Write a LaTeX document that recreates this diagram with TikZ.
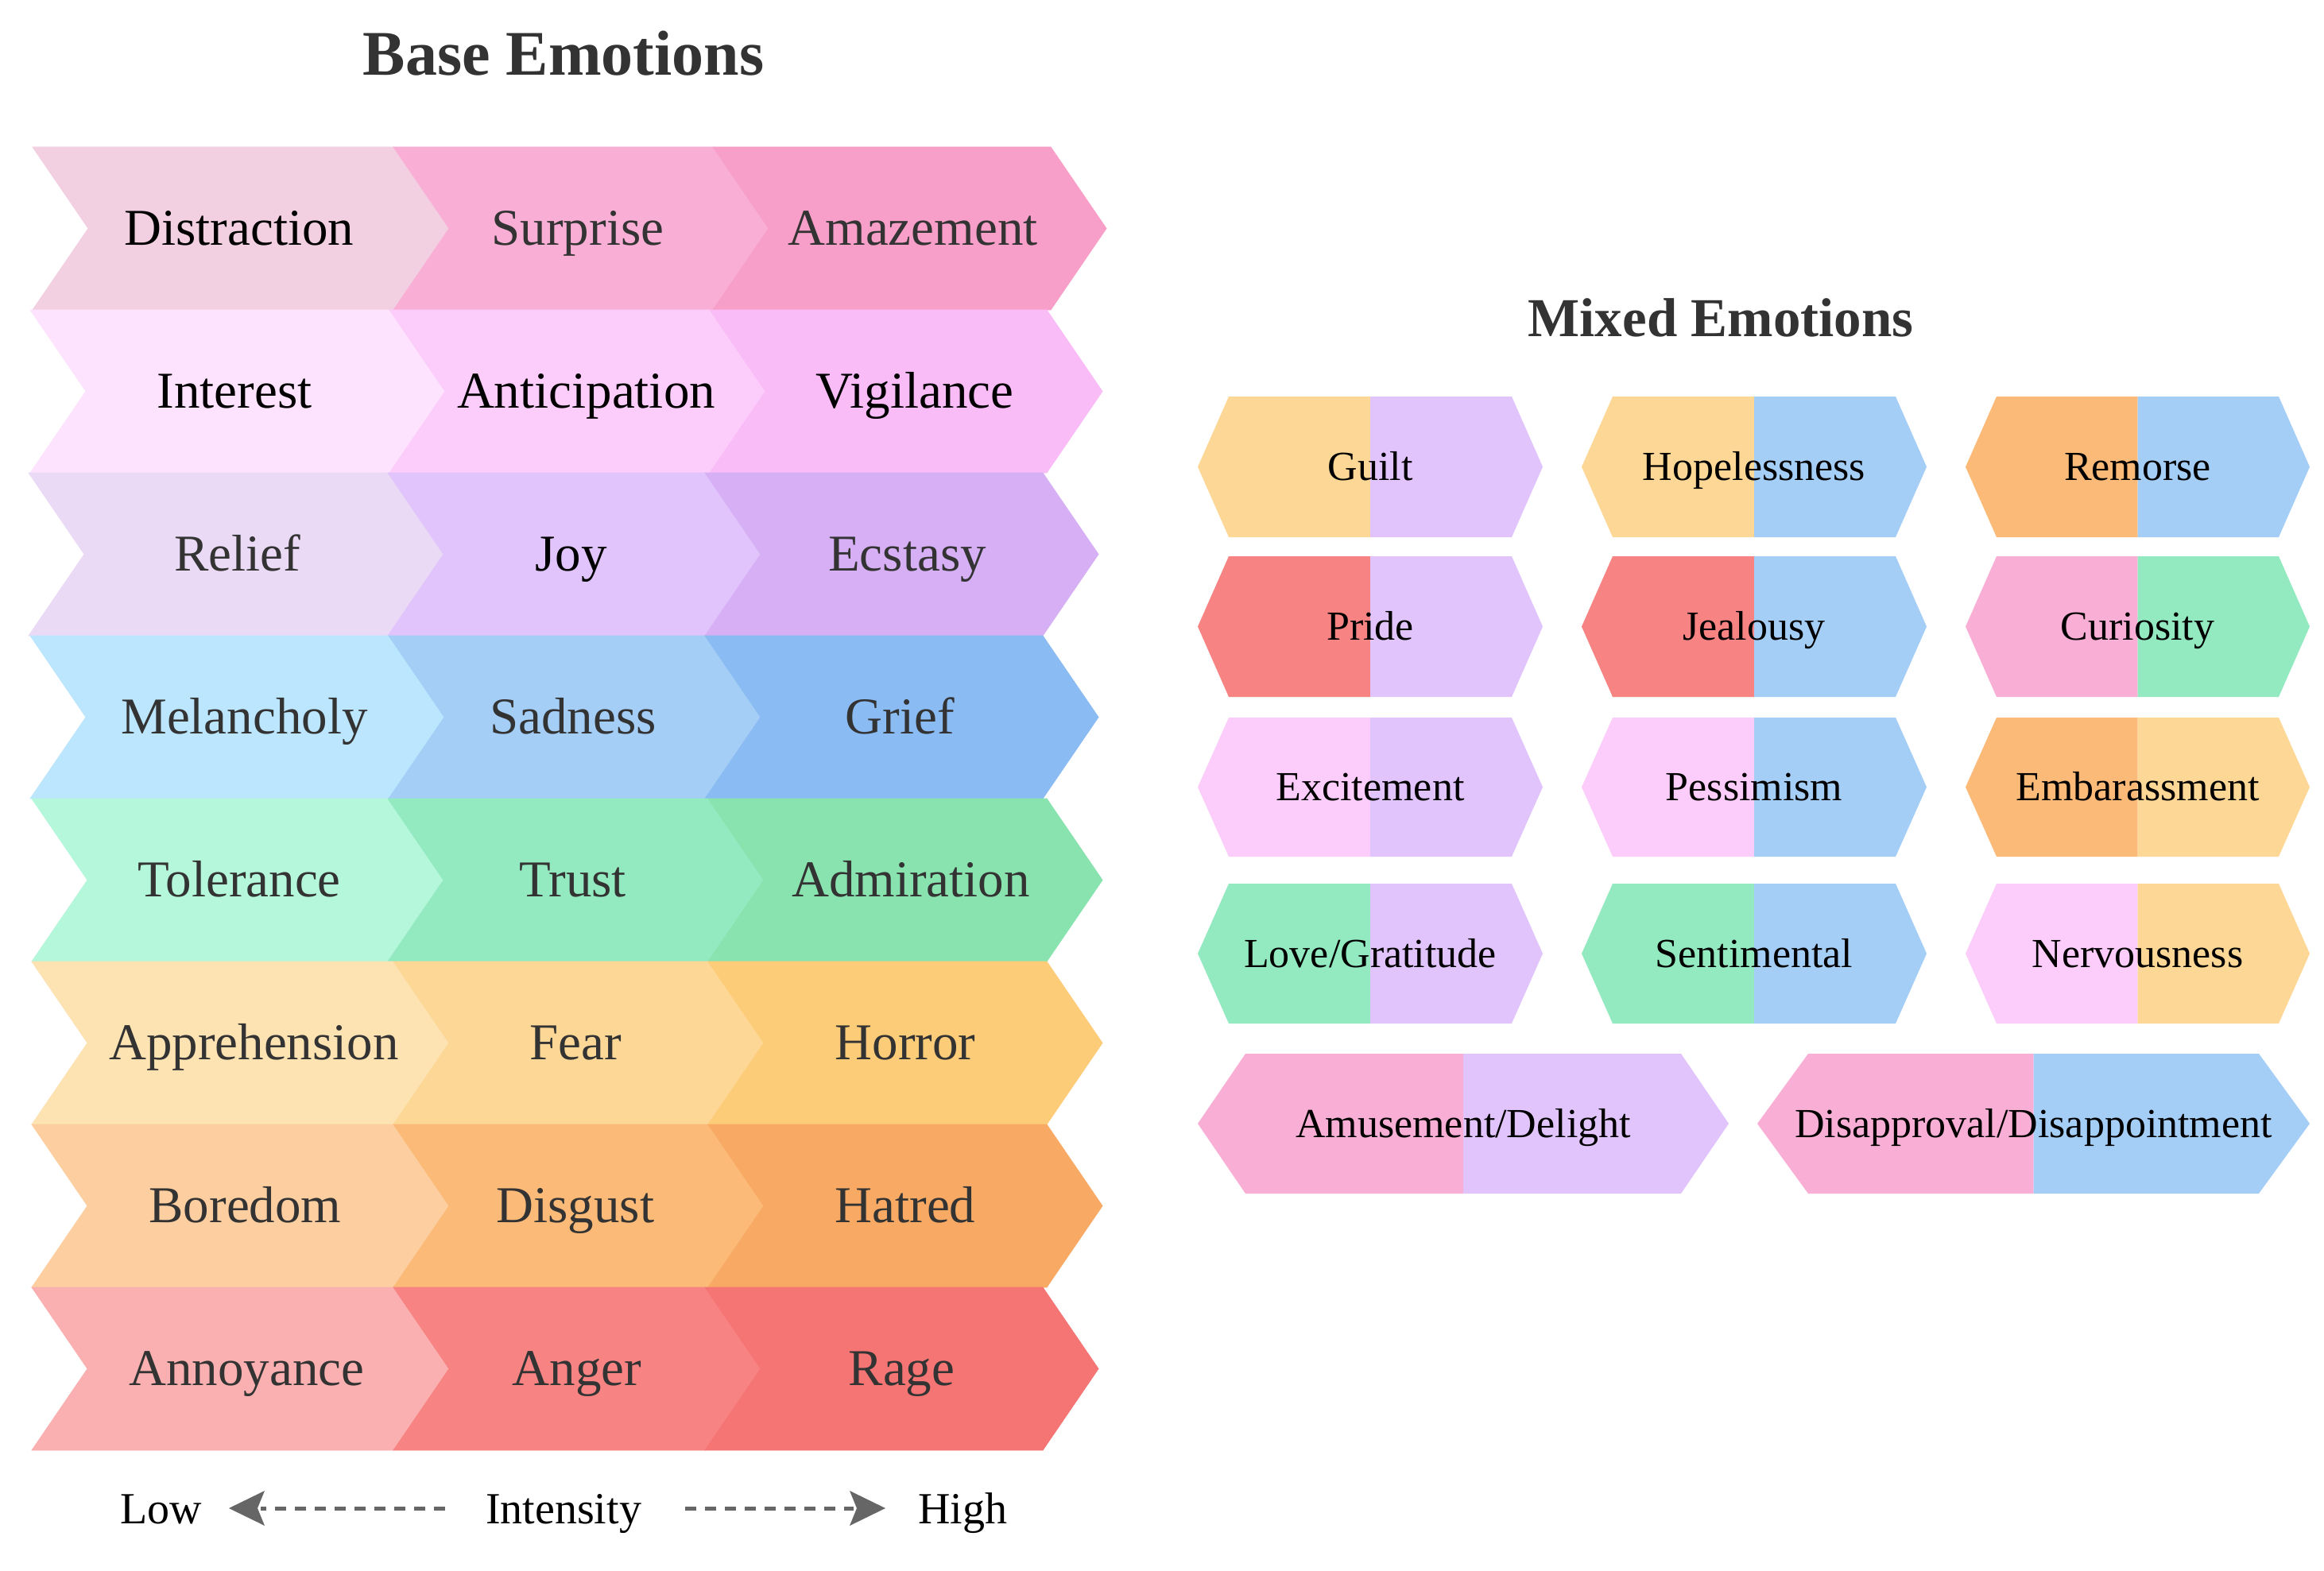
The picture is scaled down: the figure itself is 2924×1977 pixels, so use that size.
\documentclass[tikz,border=0pt]{standalone}
\usepackage{fontspec}
\setmainfont{Liberation Serif}
\begin{document}
\begin{tikzpicture}[x=1pt,y=-1pt,
  basetxt/.style={anchor=base,inner sep=0pt,font=\fontsize{65}{78}\selectfont},
  mixtxt/.style={anchor=base,inner sep=0pt,text=black,font=\fontsize{52}{62}\selectfont},
  legtxt/.style={anchor=base,inner sep=0pt,text=black,font=\fontsize{56}{66}\selectfont},
  titletxt/.style={anchor=base,inner sep=0pt,text=tgray,font=\bfseries},
  dashline/.style={draw=lgray,line width=5pt,dash pattern=on 14pt off 11pt},
  headfill/.style={fill=lgray}]
\definecolor{tgray}{HTML}{333333}
\definecolor{lgray}{HTML}{666666}
\definecolor{cDistraction}{HTML}{F2D0E2}
\definecolor{cSurprise}{HTML}{F9AFD5}
\definecolor{cAmazement}{HTML}{F79FC8}
\definecolor{cInterest}{HTML}{FDE3FD}
\definecolor{cAnticipation}{HTML}{FCCDFB}
\definecolor{cVigilance}{HTML}{F9BCF7}
\definecolor{cRelief}{HTML}{EBDAF6}
\definecolor{cJoy}{HTML}{E1C4FB}
\definecolor{cEcstasy}{HTML}{D6AFF5}
\definecolor{cMelancholy}{HTML}{BCE6FD}
\definecolor{cSadness}{HTML}{A5CEF7}
\definecolor{cGrief}{HTML}{8ABBF2}
\definecolor{cTolerance}{HTML}{B4F7DA}
\definecolor{cTrust}{HTML}{93EAC0}
\definecolor{cAdmiration}{HTML}{88E3AF}
\definecolor{cApprehension}{HTML}{FDE2B2}
\definecolor{cFear}{HTML}{FDD795}
\definecolor{cHorror}{HTML}{FDCC78}
\definecolor{cBoredom}{HTML}{FDCFA0}
\definecolor{cDisgust}{HTML}{FBBA77}
\definecolor{cHatred}{HTML}{F8AA65}
\definecolor{cAnnoyance}{HTML}{FAB0B0}
\definecolor{cAnger}{HTML}{F88383}
\definecolor{cRage}{HTML}{F57474}
% segment: name, left x, right x, top y, text x offset, text colour
\newcommand{\chevseg}[6]{%
  \fill[c#1,draw=c#1,line width=0.8pt] (#2,#4) -- (#3,#4) -- ({#3+70},{#4+102.5}) -- (#3,{#4+205}) -- (#2,{#4+205}) -- ({#2+70},{#4+102.5}) -- cycle;
  \node[basetxt,text=#6] (n#1) at ({(#2+#3+70)/2+#5},{#4+123.5}) {#1};}
\useasboundingbox (0,0) rectangle (2924,1977);
\fill[white] (0,0) rectangle (2924,1977);
% titles
\node[titletxt,font=\bfseries\fontsize{80}{96}\selectfont] (tbase) at (709,95) {Base Emotions};
\node[titletxt,font=\bfseries\fontsize{69}{83}\selectfont] (tmixed) at (2165,423) {Mixed Emotions};
% base emotions rows
\chevseg{Distraction}{41}{495}{185}{-2}{black}
\chevseg{Surprise}{495}{897}{185}{-4}{tgray}
\chevseg{Amazement}{897}{1322}{185}{4}{tgray}
\chevseg{Interest}{38}{490}{390}{-4}{black}
\chevseg{Anticipation}{490}{893}{390}{11}{black}
\chevseg{Vigilance}{893}{1317}{390}{11}{black}
\chevseg{Relief}{36}{488}{595}{2}{tgray}
\chevseg{Joy}{488}{887}{595}{-4}{black}
\chevseg{Ecstasy}{887}{1312}{595}{7}{tgray}
\chevseg{Melancholy}{38}{489}{800}{9}{tgray}
\chevseg{Sadness}{489}{887}{800}{-2}{tgray}
\chevseg{Grief}{887}{1312}{800}{-2}{tgray}
\chevseg{Tolerance}{40}{488}{1005}{2}{tgray}
\chevseg{Trust}{488}{891}{1005}{-4}{tgray}
\chevseg{Admiration}{891}{1317}{1005}{7}{tgray}
\chevseg{Apprehension}{40}{495}{1210}{17}{tgray}
\chevseg{Fear}{495}{891}{1210}{-4}{tgray}
\chevseg{Horror}{891}{1317}{1210}{0}{tgray}
\chevseg{Boredom}{40}{495}{1415}{6}{tgray}
\chevseg{Disgust}{495}{891}{1415}{-4}{tgray}
\chevseg{Hatred}{891}{1317}{1415}{0}{tgray}
\chevseg{Annoyance}{40}{495}{1620}{8}{tgray}
\chevseg{Anger}{495}{887}{1620}{0}{tgray}
\chevseg{Rage}{887}{1312}{1620}{0}{tgray}
% mixed hexagon: name, xl, xr, yt, yb, depth, colL, colR, text
\newcommand{\mixhex}[9]{%
  \fill[#7] (#2,{(#4+#5)/2}) -- ({#2+#6},#4) -- ({(#2+#3)/2},#4) -- ({(#2+#3)/2},#5) -- ({#2+#6},#5) -- cycle;
  \fill[#8] ({(#2+#3)/2},#4) -- ({#3-#6},#4) -- (#3,{(#4+#5)/2}) -- ({#3-#6},#5) -- ({(#2+#3)/2},#5) -- cycle;
  \node[mixtxt] (#1) at ({(#2+#3)/2},{(#4+#5)/2+17}) {#9};}
\mixhex{mGuilt}{1507}{1941}{499}{676}{39}{cFear}{cJoy}{Guilt}
\mixhex{mHope}{1990}{2424}{499}{676}{39}{cFear}{cSadness}{Hopelessness}
\mixhex{mRemorse}{2473}{2906}{499}{676}{39}{cDisgust}{cSadness}{Remorse}
\mixhex{mPride}{1507}{1941}{700}{877}{39}{cAnger}{cJoy}{Pride}
\mixhex{mJeal}{1990}{2424}{700}{877}{39}{cAnger}{cSadness}{Jealousy}
\mixhex{mCur}{2473}{2906}{700}{877}{39}{cSurprise}{cTrust}{Curiosity}
\mixhex{mExc}{1507}{1941}{903}{1078}{39}{cAnticipation}{cJoy}{Excitement}
\mixhex{mPess}{1990}{2424}{903}{1078}{39}{cAnticipation}{cSadness}{Pessimism}
\mixhex{mEmb}{2473}{2906}{903}{1078}{39}{cDisgust}{cFear}{Embarassment}
\mixhex{mLove}{1507}{1941}{1112}{1288}{39}{cTrust}{cJoy}{Love/Gratitude}
\mixhex{mSent}{1990}{2424}{1112}{1288}{39}{cTrust}{cSadness}{Sentimental}
\mixhex{mNerv}{2473}{2906}{1112}{1288}{39}{cAnticipation}{cFear}{Nervousness}
\mixhex{mAmuse}{1507}{2175}{1326}{1502}{60}{cSurprise}{cJoy}{Amusement/Delight}
\mixhex{mDisap}{2211}{2906}{1326}{1502}{64}{cSurprise}{cSadness}{Disapproval/Disappointment}
% legend
\node[legtxt] (low) at (203,1917) {Low};
\node[legtxt] (intensity) at (709,1917) {Intensity};
\node[legtxt] (high) at (1211,1917) {High};
\coordinate (lstart) at (560,1898);
\coordinate (lend) at (328,1898);
\coordinate (ltip) at (288,1898);
\coordinate (rstart) at (862,1898);
\coordinate (rend) at (1074,1898);
\coordinate (rtip) at (1114,1898);
\draw[dashline] (lstart) -- (lend);
\draw[dashline] (rstart) -- (rend);
\fill[headfill] (ltip) -- ++(45,-22) -- ++(-9,22) -- ++(9,22) -- cycle;
\fill[headfill] (rtip) -- ++(-45,-22) -- ++(9,22) -- ++(-9,22) -- cycle;
\end{tikzpicture}
\end{document}
